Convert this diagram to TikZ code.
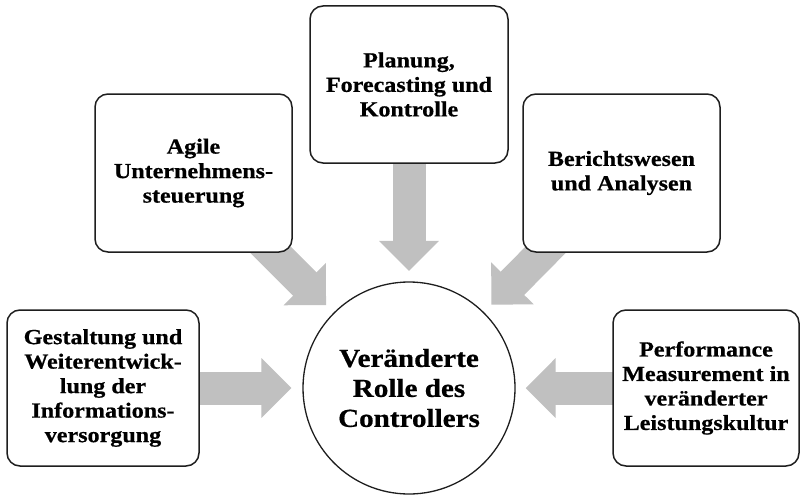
\documentclass[tikz,border=0pt]{standalone}
\usepackage{fontspec}
\setmainfont{Liberation Serif}[FakeStretch=1.12, FakeBold=0.6]
\usetikzlibrary{arrows.meta,backgrounds}
\definecolor{arrowgray}{RGB}{192,192,192}
\definecolor{edgecol}{RGB}{30,30,30}
\tikzset{
  topicbox/.style={draw=edgecol, line width=1.5pt, fill=white, rounded corners=13pt,
    align=center, inner sep=0pt, font=\fontsize{21.5pt}{24.5pt}\selectfont\bfseries},
  centrecirc/.style={draw=edgecol, line width=1.3pt, fill=white, circle, minimum size=212pt,
    align=center, inner sep=0pt, font=\fontsize{26pt}{30pt}\selectfont\bfseries},
  fatarrow/.style={draw=arrowgray, line width=33pt,
    -{Triangle[length=30pt, width=58pt]}}
}
\begin{document}
\begin{tikzpicture}[x=1pt,y=-1pt]
\useasboundingbox (0,0) rectangle (802,495);
\node[topicbox, minimum width=198pt, minimum height=157pt] (plan) at (409,84.5)
  {Planung,\\Forecasting und\\Kontrolle};
\node[topicbox, minimum width=197pt, minimum height=158pt] (agile) at (193.5,173)
  {Agile\\Unternehmens-\\steuerung};
\node[topicbox, minimum width=197pt, minimum height=158pt] (bericht) at (621.5,173)
  {Berichtswesen\\und Analysen};
\node[topicbox, minimum width=192pt, minimum height=156pt] (gestalt) at (103,388)
  {Gestaltung und\\Weiterentwick-\\lung der\\Informations-\\versorgung};
\node[topicbox, minimum width=186pt, minimum height=156pt] (perf) at (706,388)
  {Performance\\Measurement in\\veränderter\\Leistungskultur};
\node[centrecirc] (ctrl) at (409,388) {Veränderte\\Rolle des\\Controllers};
\begin{scope}[on background layer]
  \fill[white] (0,0) rectangle (802,495);
  \draw[fatarrow, shorten >=10.5pt] (plan.center) -- (ctrl);
  \draw[fatarrow, shorten >=10.5pt] (agile.center) -- (ctrl);
  \draw[fatarrow, shorten >=10.5pt] (bericht.center) -- (ctrl);
  \draw[fatarrow, shorten >=11pt] (gestalt.center) -- (ctrl);
  \draw[fatarrow, shorten >=10pt] (perf.center) -- (ctrl);
\end{scope}
\end{tikzpicture}
\end{document}
